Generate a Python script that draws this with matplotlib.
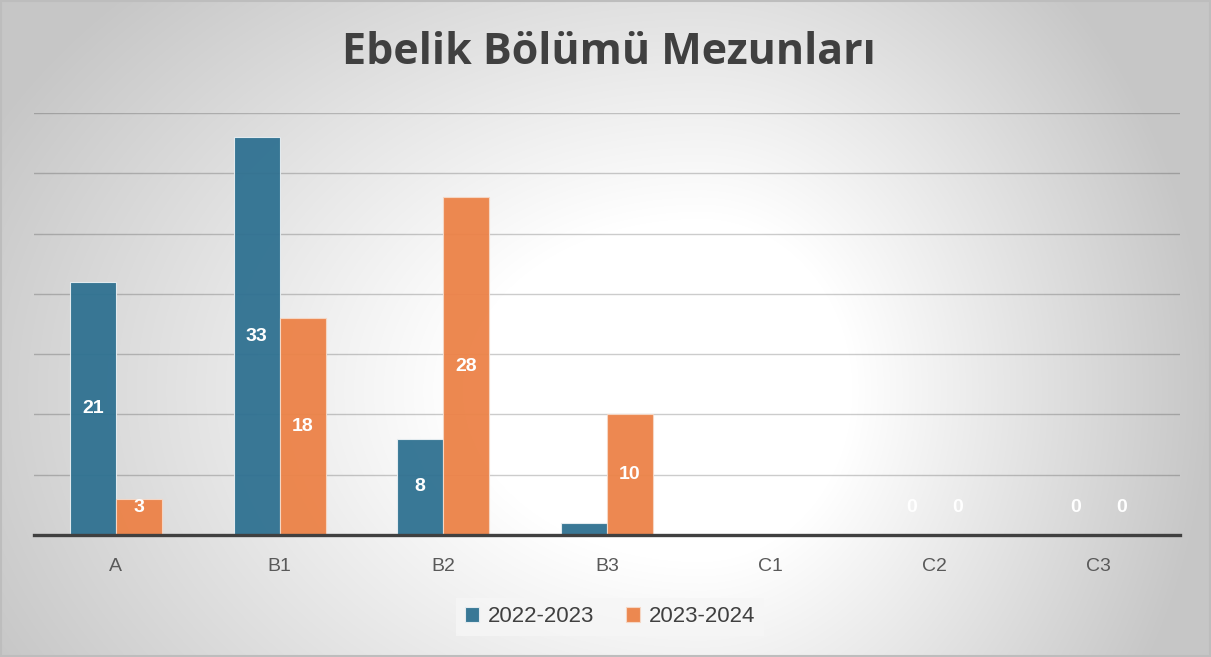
import numpy as np
import matplotlib
matplotlib.use("Agg")
import matplotlib.pyplot as plt

# veriler
categories = ["A", "B1", "B2", "B3", "C1", "C2", "C3"]
values_2022 = [21, 33, 8, 1, 0, 0, 0]
values_2023 = [3, 18, 28, 10, 0, 0, 0]
series_names = ["2022-2023", "2023-2024"]

blue = "#2f7191"
orange = "#ec8247"

fig = plt.figure(figsize=(12.11, 6.57), dpi=100)

# arka plan: radyal gradyan (sol tarafa doğru daha yavaş koyulaşır)
bg = fig.add_axes([0, 0, 1, 1], zorder=-10)
h, w = 657, 1211
yy, xx = np.mgrid[0:h, 0:w]
cx, cy = 700, 390
rx = np.where(xx < cx, 720.0, 460.0)
r = np.sqrt(((xx - cx) / rx) ** 2 + ((yy - cy) / 520.0) ** 2)
shade = 1 - 0.22 * np.clip((r - 0.33) / 0.77, 0, 1)
bg.imshow(np.dstack([shade] * 3), aspect="auto", extent=[0, 1, 0, 1])
bg.set_axis_off()
fig.patches.append(plt.Rectangle((0.001, 0.001), 0.998, 0.997, transform=fig.transFigure,
                                 fill=False, edgecolor="#bdbdbd", linewidth=1.5))

ax = fig.add_axes([34 / w, (h - 535) / h, 1146 / w, 422 / h])
ax.patch.set_alpha(0)

x = np.arange(len(categories))
bw = 0.281
b1 = ax.bar(x - bw / 2, values_2022, bw, color=blue, alpha=0.95, edgecolor="#e8eef2",
            linewidth=0.8, label=series_names[0], zorder=2)
b2 = ax.bar(x + bw / 2, values_2023, bw, color=orange, alpha=0.95, edgecolor="#f6d8c6",
            linewidth=0.8, label=series_names[1], zorder=2)

for bars, vals in [(b1, values_2022), (b2, values_2023)]:
    for rect, v in zip(bars, vals):
        ypos = max(v / 2, 2.3)
        ax.text(rect.get_x() + rect.get_width() / 2, ypos, str(v), ha="center", va="center",
                color="white", fontsize=14, fontweight="bold", family="Liberation Sans", zorder=3)

ax.set_xlim(-0.5, len(categories) - 0.5)
ax.set_ylim(0, 35)
ax.set_yticks(np.arange(5, 36, 5))
ax.yaxis.grid(True, color="black", alpha=0.2, linewidth=1, zorder=1)
ax.set_axisbelow(True)
ax.tick_params(axis="y", left=False, labelleft=False)
ax.tick_params(axis="x", bottom=False, pad=13, labelsize=14, labelcolor="#595959")
ax.set_xticks(x)
ax.set_xticklabels(categories, family="Liberation Sans")
for s in ["top", "right", "left"]:
    ax.spines[s].set_visible(False)
ax.spines["bottom"].set_color("#404040")
ax.spines["bottom"].set_linewidth(2.4)
ax.spines["bottom"].set_zorder(4)

fig.text(609 / w, 1 - 53 / h, "Ebelik Bölümü Mezunları", ha="center", va="center",
         fontsize=31, fontweight="bold", color="#404040", family="Open Sans")

leg = fig.legend(handles=[b1, b2], loc="center", bbox_to_anchor=(610 / w, 1 - 617 / h),
                 ncol=2, frameon=True, facecolor="#f6f6f6", edgecolor="none", framealpha=0.8,
                 prop={"family": "Liberation Sans", "size": 16}, handlelength=0.65, handleheight=0.65,
                 handletextpad=0.4, columnspacing=1.4, fancybox=False)
for t in leg.get_texts():
    t.set_color("#404040")

fig.savefig("out.png", dpi=100)
